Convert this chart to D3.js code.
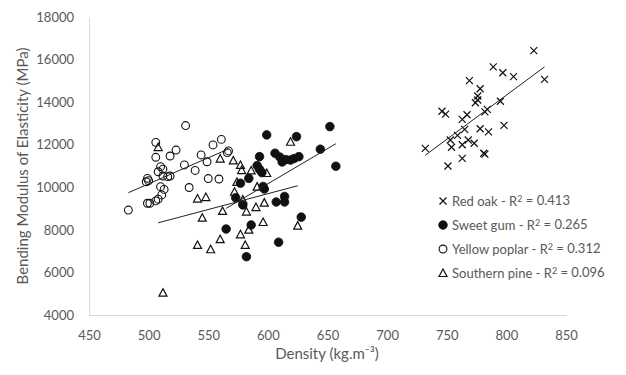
<!DOCTYPE html>
<html><head><meta charset="utf-8">
<script src="https://cdn.jsdelivr.net/npm/d3@7"></script>
<style>body{margin:0;background:#fff}svg{display:block}</style>
</head><body>
<svg id="chart" width="626" height="375"></svg>
<script>
const seriesNames = ["Red oak", "Sweet gum", "Yellow poplar", "Southern pine"];
const r2Labels = ["0.413", "0.265", "0.312", "0.096"];

const redOakDensity = [823,789,797,806,832,769,778,776,774,776,795,784,782,746,749,767,763,765,778,785,798,759,753,768,773,763,754,732,781,782,763,751];
const redOakMOE     = [16420,15660,15380,15200,15070,15010,14630,14290,13970,14100,14040,13660,13540,13570,13440,13410,13190,12720,12750,12600,12910,12440,12220,12220,12070,12000,11880,11830,11600,11560,11360,11000];

const sweetGumDensity = [652,599,624,606,593,610,612,615,619,622,626,644,657,591,593,595,584,577,596,597,573,579,607,614,614,628,586,565,609,582];
const sweetGumMOE     = [12850,12460,12380,11600,11440,11420,11190,11300,11280,11350,11440,11790,10990,11020,10840,10690,10420,10190,10040,9920,9510,9170,9310,9570,9310,8600,8230,8040,7420,6740];

const yellowPoplarDensity = [531,506,518,523,554,561,544,549,566,567,530,539,550,559,534,506,510,512,508,512,516,518,499,500,498,510,513,511,508,506,501,499,483];
const yellowPoplarMOE     = [12900,12110,11470,11750,11990,12250,11520,11200,11630,11710,11050,10790,10410,10390,9990,11410,10970,10850,10730,10530,10500,10530,10420,10310,10260,10030,9900,9640,9440,9360,9250,9250,8930];

const southernPineDensity = [508,560,571,577,578,586,599,574,572,591,541,548,579,597,590,562,582,545,596,625,584,577,560,581,541,552,512,619];
const southernPineMOE     = [11890,11350,11260,11050,10810,10790,10670,10250,9790,10030,9470,9540,9420,9280,9070,8890,8860,8570,8370,8200,8010,7790,7560,7290,7290,7090,5050,12140];

const xTicks = [450,500,550,600,650,700,750,800,850];
const yTicks = [4000,6000,8000,10000,12000,14000,16000,18000];

const xTitle = "Density (kg.m\u207B\u00B3)";
const yTitle = "Bending Modulus of Elasticity (MPa)";

const series = [
  {name: seriesNames[0], r2: r2Labels[0], xs: redOakDensity, ys: redOakMOE, marker: "cross"},
  {name: seriesNames[1], r2: r2Labels[1], xs: sweetGumDensity, ys: sweetGumMOE, marker: "filled"},
  {name: seriesNames[2], r2: r2Labels[2], xs: yellowPoplarDensity, ys: yellowPoplarMOE, marker: "open"},
  {name: seriesNames[3], r2: r2Labels[3], xs: southernPineDensity, ys: southernPineMOE, marker: "triangle"}
];

const svg = d3.select("#chart");
const font = "Lato, 'Open Sans', sans-serif";
const textColor = "#595959";
const markColor = "#111";

const x = d3.scaleLinear().domain([450, 850]).range([89, 566]);
const y = d3.scaleLinear().domain([4000, 18000]).range([315, 17]);

// axes
const xAxis = svg.append("g").attr("transform", "translate(0,315)")
  .call(d3.axisBottom(x).tickValues(xTicks).tickSize(0).tickPadding(16).tickFormat(d3.format("d")));
const yAxis = svg.append("g").attr("transform", "translate(89,0)")
  .call(d3.axisLeft(y).tickValues(yTicks).tickSize(0).tickPadding(15).tickFormat(d3.format("d")));
[xAxis, yAxis].forEach(a => {
  a.select(".domain").attr("stroke", "#d9d9d9").attr("stroke-width", 1);
  a.selectAll("text").attr("fill", textColor).style("font-family", font).style("font-size", "13px");
});

// titles
svg.append("text").attr("x", 327).attr("y", 359).attr("text-anchor", "middle")
  .attr("fill", textColor).style("font-family", font).style("font-size", "15px").text(xTitle);
svg.append("text").attr("transform", "translate(28,166) rotate(-90)").attr("text-anchor", "middle")
  .attr("fill", textColor).style("font-family", font).style("font-size", "15px").text(yTitle);

// marker drawing
function drawMarker(g, type, cx, cy) {
  if (type === "cross") {
    const s = 3.5;
    g.append("path").attr("d", `M${cx-s},${cy-s}L${cx+s},${cy+s}M${cx-s},${cy+s}L${cx+s},${cy-s}`)
      .attr("stroke", markColor).attr("stroke-width", 1.2).attr("fill", "none");
  } else if (type === "filled") {
    g.append("circle").attr("cx", cx).attr("cy", cy).attr("r", 4.3).attr("fill", markColor).attr("stroke", markColor).attr("stroke-width", 0.8);
  } else if (type === "open") {
    g.append("circle").attr("cx", cx).attr("cy", cy).attr("r", 3.9).attr("fill", "none").attr("stroke", markColor).attr("stroke-width", 1.1);
  } else {
    const h = 7, w = 8;
    g.append("path").attr("d", `M${cx},${cy-h/2-0.5}L${cx+w/2},${cy+h/2}L${cx-w/2},${cy+h/2}Z`)
      .attr("fill", "none").attr("stroke", markColor).attr("stroke-width", 1.2).attr("stroke-linejoin", "miter");
  }
}

// linear regression
function fit(xs, ys) {
  const n = xs.length, mx = d3.mean(xs), my = d3.mean(ys);
  let sxy = 0, sxx = 0;
  for (let i = 0; i < n; i++) { sxy += (xs[i]-mx)*(ys[i]-my); sxx += (xs[i]-mx)**2; }
  const b = sxy / sxx, a = my - b*mx;
  return {a, b};
}

const plot = svg.append("g");
series.forEach(s => {
  const g = plot.append("g");
  s.xs.forEach((d, i) => drawMarker(g, s.marker, x(d), y(s.ys[i])));
});
series.forEach(s => {
  const {a, b} = fit(s.xs, s.ys);
  const [x0, x1] = d3.extent(s.xs);
  plot.append("line")
    .attr("x1", x(x0)).attr("y1", y(a + b*x0))
    .attr("x2", x(x1)).attr("y2", y(a + b*x1))
    .attr("stroke", "#222").attr("stroke-width", 1);
});

// legend
const legend = svg.append("g");
const legendY = [201, 225, 249, 273];
series.forEach((s, i) => {
  const g = legend.append("g");
  drawMarker(g, s.marker, 443, legendY[i]);
  const t = g.append("text").attr("x", 452).attr("y", legendY[i]).attr("dy", "0.35em")
    .attr("fill", textColor).style("font-family", font).style("font-size", "13px");
  t.append("tspan").text(`${s.name} - R`);
  t.append("tspan").attr("font-size", "9px").attr("dy", "-0.45em").text("2");
  t.append("tspan").attr("dy", "0.3em").text(` = ${s.r2}`);
});
</script>
</body></html>
